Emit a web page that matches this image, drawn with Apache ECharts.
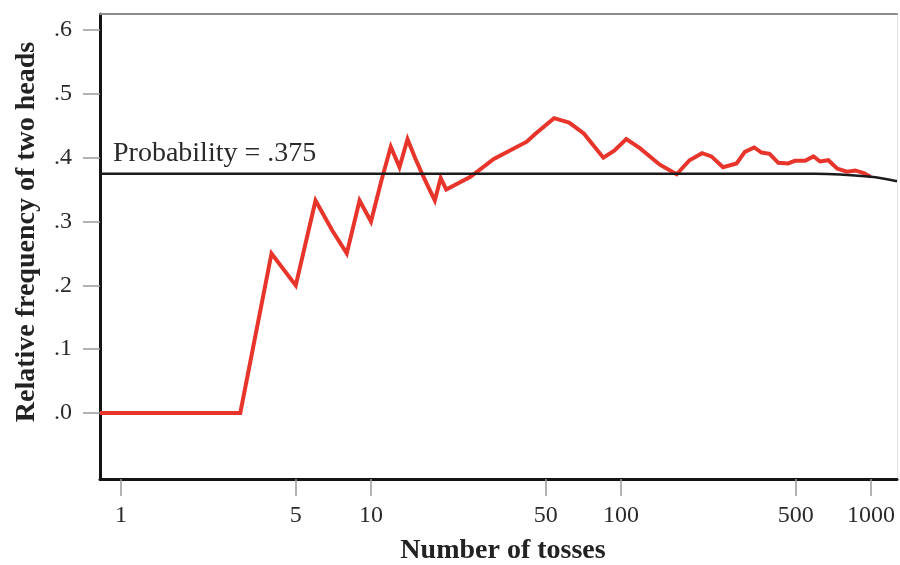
<!DOCTYPE html>
<html>
<head>
<meta charset="utf-8">
<script src="https://cdn.jsdelivr.net/npm/echarts@6/dist/echarts.min.js"></script>
<style>
  html, body { margin: 0; padding: 0; background: #ffffff; }
  #chart { width: 900px; height: 565px; }
</style>
</head>
<body>
<div id="chart"></div>
<script>
// Number of tosses and the running relative frequency of two heads
const tosses = [1, 2, 3, 4, 5, 6, 7, 8, 9, 10, 11, 12, 13, 14, 15, 16, 17, 18, 19, 20,
  25, 31, 42, 45, 54, 62, 71, 85, 94, 105, 119, 143, 167, 188, 211, 230, 256, 290,
  313, 341, 365, 393, 426, 466, 496, 545, 589, 626, 675, 732, 802, 866, 935, 996];
const relFreq = [0, 0, 0, .25, .2, .333, .286, .25, .333, .3, .364, .417, .385, .429, .4, .375, .353, .333, .368, .35,
  .37, .398, .425, .436, .462, .455, .438, .40, .411, .429, .415, .389, .374, .396, .407, .402, .385, .391,
  .409, .416, .408, .406, .392, .391, .395, .395, .402, .394, .396, .383, .378, .380, .376, .370];

// Theoretical probability line
const probability = 0.375;
const probTosses = [0.824, 600, 1000, 1271];
const probValues = [0.375, 0.375, 0.370, 0.363];

// Axis ranges and tick positions
const xMin = 0.824, xMax = 1271;
const yMin = -0.1034, yMax = 0.6251;
const xTicks = [1, 5, 10, 50, 100, 500, 1000];
const yTicks = [0, 0.1, 0.2, 0.3, 0.4, 0.5, 0.6];

const serif = '"Liberation Serif", "DejaVu Serif", serif';

const freqData = [[xMin, relFreq[0]]].concat(tosses.map((n, i) => [n, relFreq[i]]));
const probData = probTosses.map((n, i) => [n, probValues[i]]);

const chart = echarts.init(document.getElementById('chart'), null, { renderer: 'canvas' });

chart.setOption({
  animation: false,
  backgroundColor: '#ffffff',
  grid: { left: 100, right: 3, top: 14, bottom: 86, outerBoundsMode: 'none', containLabel: false },
  xAxis: [{
    type: 'log', logBase: 10, min: xMin, max: xMax, position: 'bottom',
    axisLine: { show: true, onZero: false, lineStyle: { color: '#141414', width: 3 } },
    axisTick: { show: true, customValues: xTicks, length: 17, lineStyle: { color: '#9a9a9a', width: 1.5 } },
    axisLabel: { show: true, customValues: xTicks, margin: 25, color: '#2a2a2a', fontFamily: serif, fontSize: 24,
      formatter: v => String(Math.round(v)) },
    splitLine: { show: false }, minorTick: { show: false }
  }, {
    type: 'log', logBase: 10, min: xMin, max: xMax, position: 'top',
    axisLine: { show: true, onZero: false, lineStyle: { color: '#8c8c8c', width: 2 } },
    axisTick: { show: false }, axisLabel: { show: false }, splitLine: { show: false }
  }],
  yAxis: [{
    type: 'value', min: yMin, max: yMax, position: 'left',
    axisLine: { show: true, onZero: false, lineStyle: { color: '#141414', width: 3 } },
    axisTick: { show: true, customValues: yTicks, length: 17, lineStyle: { color: '#9a9a9a', width: 1.5 } },
    axisLabel: { show: true, customValues: yTicks, margin: 28, color: '#2a2a2a', fontFamily: serif, fontSize: 24,
      formatter: v => '.' + Math.round(v * 10) },
    splitLine: { show: false }
  }, {
    type: 'value', min: yMin, max: yMax, position: 'right',
    axisLine: { show: true, onZero: false, lineStyle: { color: '#e4e4e4', width: 1 } },
    axisTick: { show: false }, axisLabel: { show: false }, splitLine: { show: false }
  }],
  series: [{
    name: 'Relative frequency', type: 'line', data: freqData,
    showSymbol: false, symbol: 'none', z: 2,
    lineStyle: { color: '#e8352c', width: 4, join: 'miter' }
  }, {
    name: 'Probability', type: 'line', data: probData, smooth: 0.3,
    showSymbol: false, symbol: 'none', z: 3,
    lineStyle: { color: '#1b1b1b', width: 2.5 }
  }],
  graphic: [{
    type: 'text', x: 113, y: 154, z: 10,
    style: { text: 'Probability = ' + String(probability).replace(/^0/, ''), fill: '#2a2a2a', font: '28px ' + serif,
      align: 'left', verticalAlign: 'middle' }
  }, {
    type: 'text', x: 27, y: 232, rotation: Math.PI / 2, z: 10,
    style: { text: 'Relative frequency of two heads', fill: '#222', font: 'bold 28px ' + serif,
      align: 'center', verticalAlign: 'middle' }
  }, {
    type: 'text', x: 503, y: 551, z: 10,
    style: { text: 'Number of tosses', fill: '#222', font: 'bold 28px ' + serif,
      align: 'center', verticalAlign: 'middle' }
  }]
});
</script>
</body>
</html>
